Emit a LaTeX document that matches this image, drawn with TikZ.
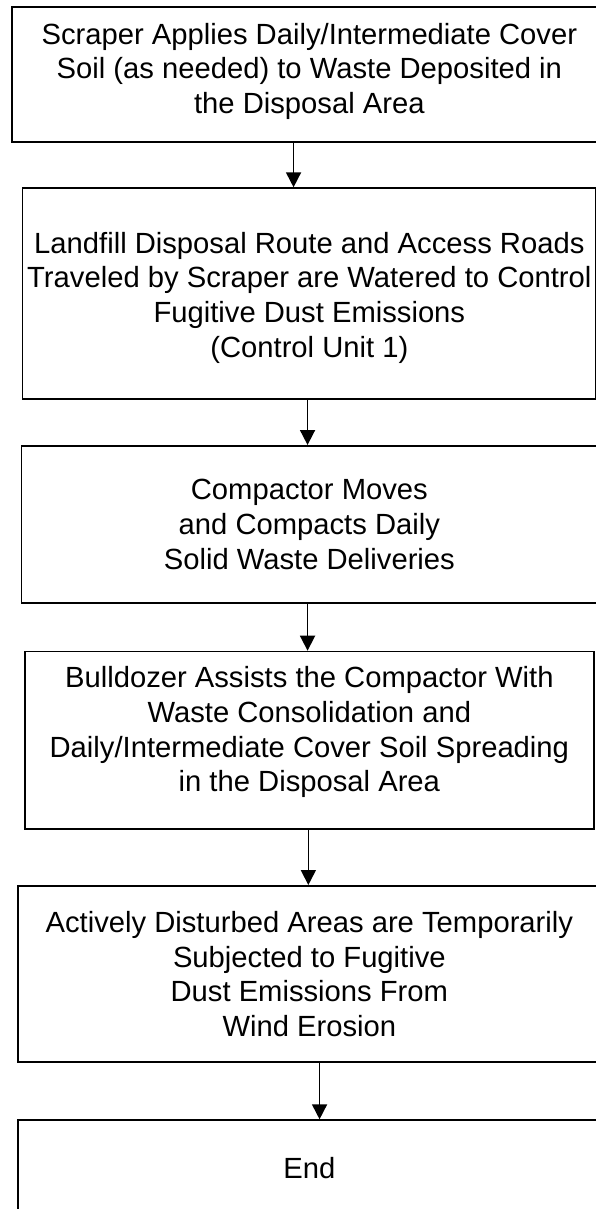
\documentclass[tikz,border=0pt]{standalone}
\usepackage{fontspec}
\setmainfont{Liberation Sans}
\usetikzlibrary{arrows.meta}
\begin{document}
\begin{tikzpicture}[x=1pt,y=-1pt,
  flowbox/.style={draw=black, line width=1.7pt, rectangle, anchor=north west, inner sep=0pt,
    align=center, font=\fontsize{29.2}{34.6}\selectfont},
  flowarrow/.style={draw=black, line width=1.7pt, -{Triangle[length=15pt,width=15pt]}}]
\useasboundingbox (0,0) rectangle (595,1209);
\node[flowbox, minimum width=595pt, minimum height=135pt] (b1) at (11,6)
  {Scraper Applies Daily/Intermediate Cover\\Soil (as needed) to Waste Deposited in\\the Disposal Area\\[-22.5pt]\mbox{}};
\node[flowbox, minimum width=573.6pt, minimum height=211pt] (b2) at (21.7,187.3)
  {Landfill Disposal Route and Access Roads\\Traveled by Scraper are Watered to Control\\Fugitive Dust Emissions\\(Control Unit 1)\\[-36.4pt]\mbox{}};
\node[flowbox, minimum width=575.6pt, minimum height=157pt] (b3) at (20.7,445)
  {Compactor Moves\\and Compacts Daily\\Solid Waste Deliveries};
\node[flowbox, minimum width=569pt, minimum height=177.6pt] (b4) at (24,650.7)
  {Bulldozer Assists the Compactor With\\Waste Consolidation and\\Daily/Intermediate Cover Soil Spreading\\in the Disposal Area\\[-12.5pt]\mbox{}};
\node[flowbox, minimum width=582.4pt, minimum height=176.3pt] (b5) at (17.3,885)
  {Actively Disturbed Areas are Temporarily\\Subjected to Fugitive\\Dust Emissions From\\Wind Erosion};
\node[flowbox, minimum width=582.4pt, minimum height=96pt] (b6) at (17.3,1119.3)
  {End};
\draw[flowarrow] ([xshift=-15.8pt]b1.south) -- ([xshift=-15.8pt]b2.north);
\draw[flowarrow] ([xshift=-1.8pt]b2.south) -- ([xshift=-1.8pt]b3.north);
\draw[flowarrow] ([xshift=-1.8pt]b3.south) -- ([xshift=-1.8pt]b4.north);
\draw[flowarrow] ([xshift=-1pt]b4.south) -- ([xshift=-1pt]b5.north);
\draw[flowarrow] ([xshift=10.2pt]b5.south) -- ([xshift=10.2pt]b6.north);
\end{tikzpicture}
\end{document}
